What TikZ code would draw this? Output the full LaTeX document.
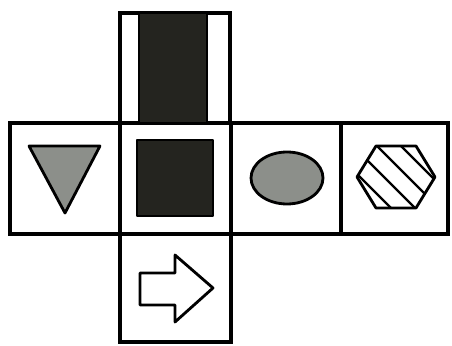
\documentclass[tikz,border=0pt]{standalone}
\usepackage{tikz}
\usetikzlibrary{calc}
\definecolor{darkfill}{HTML}{24241F}
\definecolor{greyfill}{HTML}{8C8F8A}
\tikzset{
  face/.style={draw, line width=2.3pt, fill=white},
  shp/.style={draw, line width=2pt, line join=round},
  stripe/.style={line width=1.6pt}
}
\begin{document}
\begin{tikzpicture}[x=0.025cm, y=-0.025cm]
  \useasboundingbox (0,0) rectangle (452,346);
  % net of the cube
  \draw[face] (120,13) rectangle (230,123);
  \draw[face] (10,123) rectangle (120,234);
  \draw[face] (120,123) rectangle (231,234);
  \draw[face] (231,123) rectangle (341,234);
  \draw[face] (341,123) rectangle (448,234);
  \draw[face] (120,234) rectangle (231,342);
  % top face: dark band
  \fill[darkfill] (139,14) rectangle (207,122);
  \draw[line width=1pt] (139,14) -- (139,122) (207,14) -- (207,122);
  % faces of the middle row
  \draw[shp, fill=greyfill] (29,146) -- (100,146) -- (65,213) -- cycle;
  \draw[shp, fill=darkfill] (137,140) rectangle (213,216);
  \draw[shp, fill=greyfill] (287,178) ellipse (36 and 26);
  \coordinate (hex) at (396,177);
  \begin{scope}
    \clip (hex) ++(-39,0) -- ++(19,-31) -- ++(40,0) -- ++(19,31) -- ++(-19,31) -- ++(-40,0) -- cycle;
    \foreach \c in {-36,-12,12,36}
      \draw[stripe] ($(hex)+(\c,0)+(-40,-40)$) -- ($(hex)+(\c,0)+(40,40)$);
  \end{scope}
  \draw[shp] (hex) ++(-39,0) -- ++(19,-31) -- ++(40,0) -- ++(19,31) -- ++(-19,31) -- ++(-40,0) -- cycle;
  % bottom face: arrow
  \draw[shp, fill=white] (140,273) -- (175,273) -- (175,255) -- (213,288) -- (175,322) -- (175,305) -- (140,305) -- cycle;
\end{tikzpicture}
\end{document}
